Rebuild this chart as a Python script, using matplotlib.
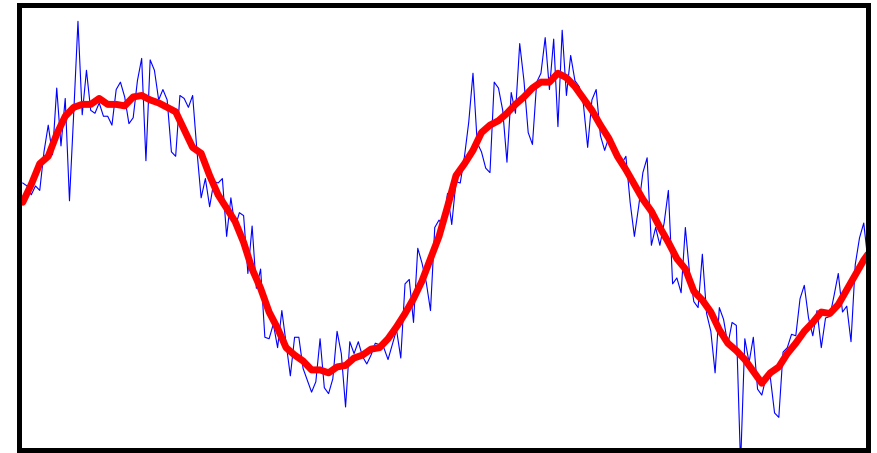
import numpy as np
import matplotlib
matplotlib.use('Agg')
import matplotlib.pyplot as plt


# noisy samples (blue), one per step
noisy = [0.30, 0.28, 0.22, 0.28, 0.25, 0.51, 0.69, 0.49, 0.94, 0.55,
         0.87, 0.18, 0.77, 1.39, 0.76, 1.06, 0.79, 0.77, 0.84, 0.75,
         0.75, 0.69, 0.93, 0.98, 0.88, 0.70, 0.74, 0.99, 1.14, 0.45,
         1.13, 1.06, 0.86, 0.93, 0.86, 0.51, 0.48, 0.89, 0.87, 0.81,
         0.89, 0.52, 0.20, 0.33, 0.14, 0.31, 0.30, 0.33, -0.06, 0.20,
         0.00, 0.10, 0.08, -0.31, 0.01, -0.41, -0.28, -0.74, -0.75, -0.65,
         -0.81, -0.56, -0.78, -1.00, -0.74, -0.74, -0.95, -1.03, -1.11, -1.04,
         -0.75, -1.08, -1.12, -1.02, -0.70, -0.85, -1.21, -0.77, -0.85, -0.77,
         -0.87, -0.92, -0.86, -0.78, -0.79, -0.81, -0.89, -0.79, -0.69, -0.88,
         -0.38, -0.35, -0.64, -0.14, -0.24, -0.37, -0.56, 0.00, 0.05, 0.01,
         0.23, 0.02, 0.31, 0.30, 0.48, 0.71, 1.04, 0.57, 0.51, 0.40,
         0.37, 0.98, 0.94, 0.79, 0.44, 0.91, 0.77, 1.24, 0.99, 0.64,
         0.56, 0.98, 1.04, 1.28, 0.93, 1.27, 0.68, 1.33, 0.89, 1.16,
         0.99, 0.95, 0.83, 0.54, 0.86, 0.93, 0.62, 0.52, 0.61, 0.54,
         0.49, 0.43, 0.48, 0.17, -0.06, 0.14, 0.37, 0.47, -0.12, 0.00,
         -0.12, 0.03, 0.25, -0.38, -0.34, -0.44, 0.00, -0.31, -0.50, -0.54,
         -0.18, -0.58, -0.70, -0.98, -0.54, -0.62, -0.79, -0.64, -0.66, -1.60,
         -0.75, -0.91, -0.74, -1.09, -1.13, -1.01, -1.01, -1.25, -1.28, -0.84,
         -0.81, -0.72, -0.73, -0.48, -0.39, -0.61, -0.73, -0.56, -0.81, -0.61,
         -0.60, -0.46, -0.31, -0.57, -0.53, -0.77, -0.25, -0.07, 0.03, -0.23]

# smoothed curve (red), every second step plus the last one
smooth_idx = list(range(0, 200, 2)) + [199]
smooth = [0.17, 0.29, 0.43, 0.48, 0.63, 0.75, 0.81, 0.83, 0.83, 0.87,
          0.83, 0.83, 0.82, 0.88, 0.89, 0.86, 0.84, 0.81, 0.78, 0.66,
          0.54, 0.50, 0.35, 0.22, 0.13, 0.04, -0.10, -0.28, -0.41, -0.57,
          -0.68, -0.81, -0.86, -0.90, -0.96, -0.96, -0.98, -0.94, -0.93, -0.88,
          -0.86, -0.82, -0.81, -0.75, -0.67, -0.58, -0.48, -0.36, -0.21, -0.06,
          0.14, 0.35, 0.43, 0.52, 0.64, 0.69, 0.72, 0.77, 0.83, 0.88,
          0.94, 0.98, 0.98, 1.04, 1.01, 0.95, 0.87, 0.79, 0.69, 0.60,
          0.48, 0.39, 0.29, 0.19, 0.11, 0.00, -0.10, -0.21, -0.28, -0.43,
          -0.49, -0.57, -0.69, -0.78, -0.83, -0.89, -0.97, -1.05, -0.98, -0.94,
          -0.85, -0.78, -0.70, -0.64, -0.57, -0.58, -0.52, -0.42, -0.32, -0.22,
          -0.18]


def main():
    fig = plt.figure(figsize=(8.77, 4.53), dpi=100)
    ax = fig.add_axes([18.5 / 877, 3 / 453, 849.5 / 877, 445 / 453])

    ax.plot(np.arange(len(noisy)), noisy, color='blue', linewidth=0.8)
    ax.plot(smooth_idx, smooth, color='red', linewidth=5, solid_capstyle='round')

    ax.set_xlim(-1, 199)
    ax.set_ylim(-1.5, 1.5)
    ax.set_xticks([])
    ax.set_yticks([])
    for s in ax.spines.values():
        s.set_linewidth(3.6)
        s.set_color('black')
        s.set_zorder(5)

    plt.savefig('out.png', dpi=100)


if __name__ == '__main__':
    main()
